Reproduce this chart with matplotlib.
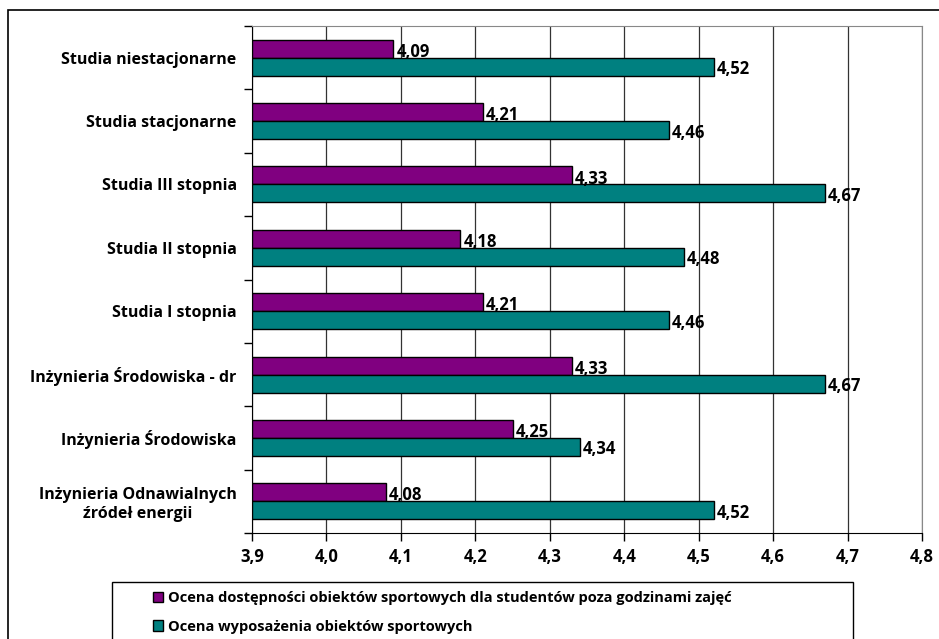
import matplotlib
matplotlib.use("Agg")
import matplotlib.pyplot as plt
import numpy as np
from matplotlib.patches import Rectangle

plt.rcParams['font.family'] = ['Open Sans', 'DejaVu Sans']
plt.rcParams['font.weight'] = 'bold'

categories = ["Studia niestacjonarne", "Studia stacjonarne", "Studia III stopnia",
              "Studia II stopnia", "Studia I stopnia", "Inżynieria Środowiska - dr",
              "Inżynieria Środowiska", "Inżynieria Odnawialnych\nźródeł energii"]
dostepnosc = [4.09, 4.21, 4.33, 4.18, 4.21, 4.33, 4.25, 4.08]
wyposazenie = [4.52, 4.46, 4.67, 4.48, 4.46, 4.67, 4.34, 4.52]
series_names = ["Ocena dostępności obiektów sportowych dla studentów poza godzinami zajęć",
                "Ocena wyposażenia obiektów sportowych"]
xticks = [3.9, 4.0, 4.1, 4.2, 4.3, 4.4, 4.5, 4.6, 4.7, 4.8]

W, H = 939, 639
fig = plt.figure(figsize=(W / 100, H / 100), dpi=100)
ax = fig.add_axes([252 / W, 1 - 533 / H, (922 - 252) / W, (533 - 26) / H])

n = len(categories)
y = np.arange(n)
bh = 0.284
purple = "#800080"
teal = "#008080"

ax.barh(y - bh / 2, np.array(dostepnosc) - 3.9, left=3.9, height=bh, color=purple,
        edgecolor="black", linewidth=1, zorder=3, label=series_names[0])
ax.barh(y + bh / 2, np.array(wyposazenie) - 3.9, left=3.9, height=bh, color=teal,
        edgecolor="black", linewidth=1, zorder=3, label=series_names[1])

for i in range(n):
    ax.text(dostepnosc[i] + 0.004, y[i] - bh / 2 + 0.05, f"{dostepnosc[i]:.2f}".replace(".", ","),
            va="center", ha="left", fontsize=12, fontweight="bold", zorder=4)
    ax.text(wyposazenie[i] + 0.004, y[i] + bh / 2 + 0.04, f"{wyposazenie[i]:.2f}".replace(".", ","),
            va="center", ha="left", fontsize=12, fontweight="bold", zorder=4)

ax.set_xlim(3.9, 4.8)
ax.set_ylim(n - 0.5, -0.5)
ax.set_xticks(xticks)
ax.set_xticklabels([f"{t:.1f}".replace(".", ",") for t in xticks], fontsize=12, fontweight="bold")
ax.tick_params(axis="x", direction="out", length=6, width=1, pad=5, color="black")
ax.set_yticks(np.arange(n + 1) - 0.5)
ax.set_yticklabels([])
ax.tick_params(axis="y", direction="out", length=6, width=1, color="black")
ax.set_yticks(y, minor=True)
ax.set_yticklabels(categories, minor=True, fontsize=11.5, fontweight="bold", multialignment="center")
ax.tick_params(axis="y", which="minor", length=0, pad=11)

ax.grid(axis="x", color="#333333", linewidth=0.9, zorder=1)
ax.set_axisbelow(True)
ax.spines["top"].set_color("#888888")
ax.spines["right"].set_color("#888888")
ax.spines["left"].set_color("black")
ax.spines["bottom"].set_color("black")

# outer chart border (extends past right and bottom of image)
fig.patches.append(Rectangle((8 / W, -0.1), 1.2, 1 - 10 / H + 0.1, transform=fig.transFigure,
                             fill=False, edgecolor="black", linewidth=1.2))
# legend box
fig.patches.append(Rectangle((112 / W, -0.1), (853 - 112) / W, 1 - 582 / H + 0.1,
                             transform=fig.transFigure, fill=False, edgecolor="black", linewidth=1))

leg = fig.legend(loc="upper left", bbox_to_anchor=(153 / W, 1 - 591 / H), frameon=False,
                 fontsize=10.5, handlelength=0.7, handleheight=0.7, handletextpad=0.35,
                 labelspacing=1.0, borderpad=0, borderaxespad=0)
for t in leg.get_texts():
    t.set_fontweight("bold")

fig.savefig("out.png", dpi=100)
